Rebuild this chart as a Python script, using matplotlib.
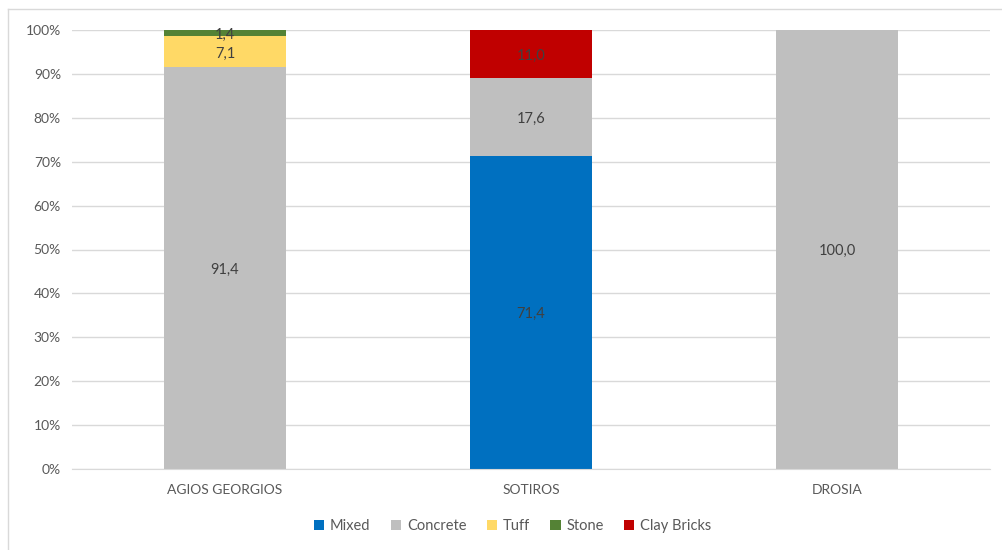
import numpy as np
import matplotlib.pyplot as plt
from matplotlib.lines import Line2D
from matplotlib.ticker import FuncFormatter

sites = ['AGIOS GEORGIOS', 'SOTIROS', 'DROSIA']
materials = ['Mixed', 'Concrete', 'Tuff', 'Stone', 'Clay Bricks']
colors = ['#0070C0', '#BFBFBF', '#FFD966', '#548235', '#C00000']

# share of buildings (%) per site, one list per material
mixed = [0.0, 71.4, 0.0]
concrete = [91.4, 17.6, 100.0]
tuff = [7.1, 0.0, 0.0]
stone = [1.4, 0.0, 0.0]
clay_bricks = [0.0, 11.0, 0.0]

series = [mixed, concrete, tuff, stone, clay_bricks]
vals = np.array(series)
totals = vals.sum(axis=0)
frac = vals / totals  # 100% stacked

plt.rcParams['font.family'] = ['Lato', 'DejaVu Sans']

fig = plt.figure(figsize=(10.02, 5.5), dpi=100)
ax = fig.add_axes([72 / 1002, 1 - 469 / 550, 918 / 1002, 439 / 550])

x = np.arange(len(sites))
bottom = np.zeros(len(sites))
for name, col, raw, f in zip(materials, colors, vals, frac):
    ax.bar(x, f, 0.4, bottom=bottom, color=col, label=name, zorder=2)
    for i in range(len(sites)):
        if raw[i] > 0:
            ax.text(x[i], bottom[i] + f[i] / 2 - 0.004, f'{raw[i]:.1f}'.replace('.', ','),
                    ha='center', va='center', fontsize=10.5, color='#404040', zorder=3)
    bottom += f

ax.set_xlim(-0.5, len(sites) - 0.5)
ax.set_ylim(0, 1)
ax.set_yticks(np.linspace(0, 1, 11))
ax.yaxis.set_major_formatter(FuncFormatter(lambda v, p: f'{v * 100:.0f}%'))
ax.set_xticks(x)
ax.set_xticklabels(sites)
ax.grid(axis='y', color='#D9D9D9', lw=1, zorder=0)
ax.set_axisbelow(True)
for s in ['top', 'right', 'left']:
    ax.spines[s].set_visible(False)
ax.spines['bottom'].set_color('#D9D9D9')
ax.tick_params(length=0, labelsize=10, colors='#595959', pad=8)
ax.tick_params(axis='x', pad=11)

ax.legend(loc='center', bbox_to_anchor=(0.48, -0.13), ncol=5, frameon=False,
          fontsize=10.5, labelcolor='#595959', handlelength=0.7, handleheight=0.7,
          handletextpad=0.4, columnspacing=1.4)

# chart border (top and left visible in the crop)
fig.add_artist(Line2D([8 / 1002, 8 / 1002], [0, 1 - 9 / 550], color='#D9D9D9', lw=1))
fig.add_artist(Line2D([8 / 1002, 1], [1 - 9 / 550, 1 - 9 / 550], color='#D9D9D9', lw=1))

fig.savefig('out.png', dpi=100)
